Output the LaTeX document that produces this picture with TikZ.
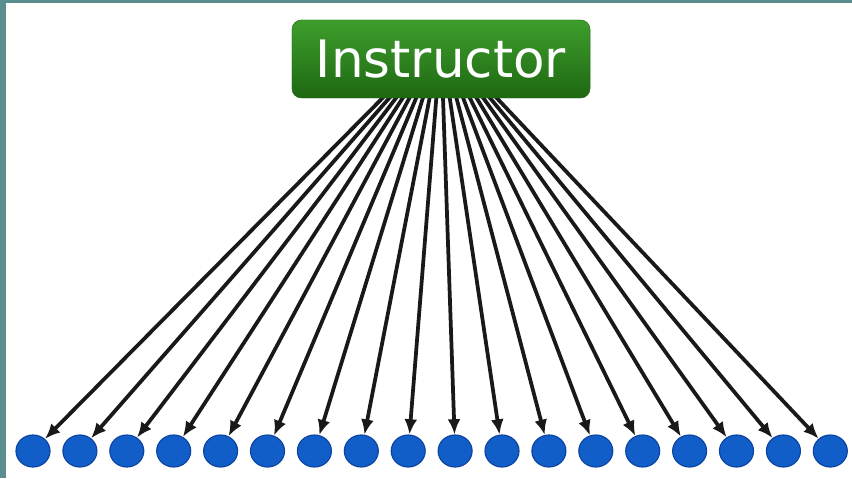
\documentclass[tikz,border=0pt]{standalone}
\usepackage{fontspec}
\setmainfont{DejaVu Sans}
\usetikzlibrary{arrows.meta, shapes.geometric, backgrounds}
\definecolor{frameteal}{RGB}{91,142,142}
\definecolor{boxtop}{RGB}{62,158,44}
\definecolor{boxbottom}{RGB}{30,104,18}
\definecolor{ballblue}{RGB}{18,94,200}
\definecolor{balledge}{RGB}{12,68,160}

\begin{document}
\begin{tikzpicture}[x=0.03cm, y=-0.03cm, >={Latex[length=13pt, width=11pt]},
    student/.style={ellipse, fill=ballblue, draw=balledge, line width=1pt,
      minimum width=1.02cm, minimum height=0.96cm, inner sep=0pt}]

  \useasboundingbox (0,0) rectangle (852,478);
  \fill[frameteal] (0,0) rectangle (6,478); % left edge
  \fill[frameteal] (0,0) rectangle (852,3); % top edge

  \node[draw=boxbottom, rounded corners=8pt, top color=boxtop, bottom color=boxbottom,
    text=white, minimum width=8.94cm, minimum height=2.34cm,
    font=\fontsize{44}{48}\selectfont] (instr) at (441,59) {Instructor};
  \coordinate (hub) at (441,39);

  \foreach \i in {1,...,18}
    \node[student] (s\i) at ({33+(\i-1)*46.9}, 451) {};

  \begin{pgfonlayer}{background}
    \foreach \i in {1,...,18}
      \draw[->, line width=3.2pt, black!90] (hub) -- (s\i);
  \end{pgfonlayer}
\end{tikzpicture}
\end{document}
